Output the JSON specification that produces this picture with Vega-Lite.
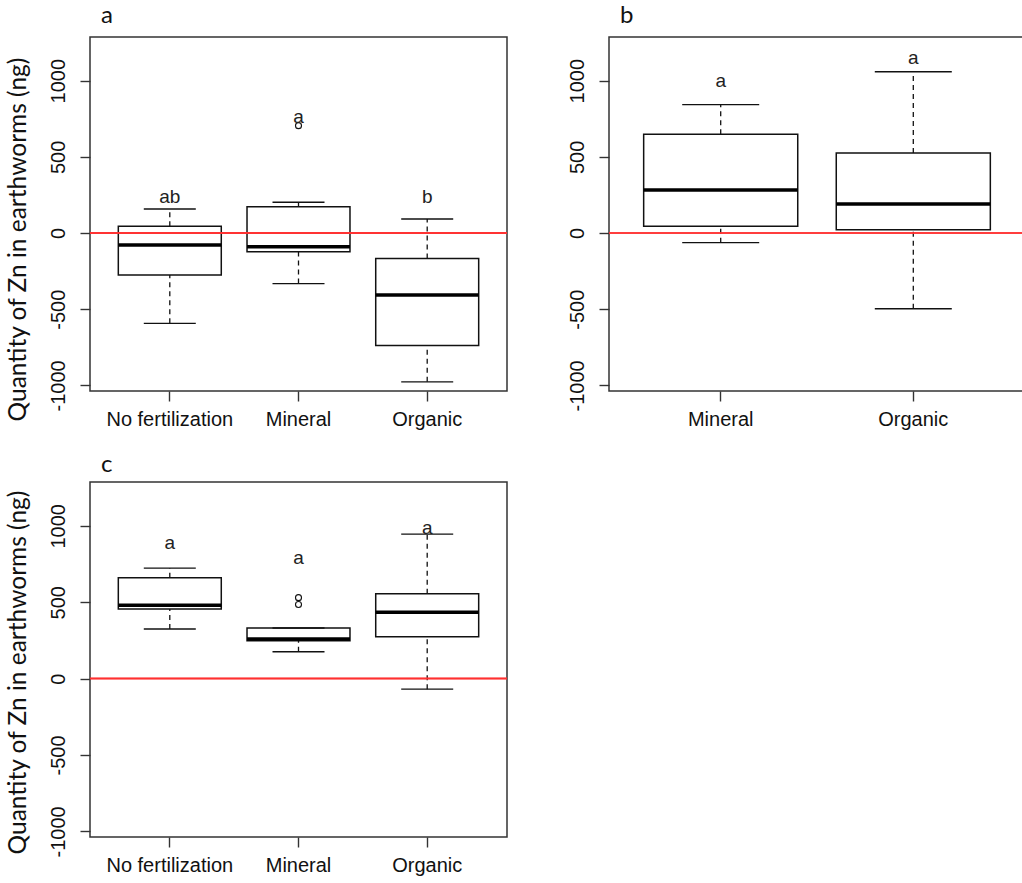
{
  "$schema": "https://vega.github.io/schema/vega-lite/v6.json",
  "padding": {"left": 4, "top": 3, "right": 0, "bottom": 0},
  "background": "white",
  "spacing": 22,
  "datasets": {
    "boxA": [
      {"g": "No fertilization", "lo": -593, "q1": -275, "med": -79, "q3": 44, "hi": 158, "lab": "ab", "ly": 235},
      {"g": "Mineral", "lo": -332, "q1": -123, "med": -90, "q3": 173, "hi": 202, "lab": "a", "ly": 759},
      {"g": "Organic", "lo": -977, "q1": -738, "med": -406, "q3": -167, "hi": 92, "lab": "b", "ly": 235}
    ],
    "outA": [{"g": "Mineral", "v": 705}],
    "boxB": [
      {"g": "Mineral", "lo": -63, "q1": 45, "med": 282, "q3": 648, "hi": 843, "lab": "a", "ly": 995},
      {"g": "Organic", "lo": -497, "q1": 21, "med": 190, "q3": 526, "hi": 1059, "lab": "a", "ly": 1148}
    ],
    "boxC": [
      {"g": "No fertilization", "lo": 325, "q1": 456, "med": 480, "q3": 660, "hi": 723, "lab": "a", "ly": 887},
      {"g": "Mineral", "lo": 176, "q1": 248, "med": 259, "q3": 331, "hi": 331, "lab": "a", "ly": 791},
      {"g": "Organic", "lo": -69, "q1": 274, "med": 434, "q3": 555, "hi": 946, "lab": "a", "ly": 988}
    ],
    "outC": [{"g": "Mineral", "v": 530}, {"g": "Mineral", "v": 485}]
  },
  "vconcat": [
    {
      "hconcat": [
        {
          "width": 417, "height": 354,
          "title": {"text": "a", "anchor": "start", "frame": "group", "dx": 11, "offset": 9, "font": "Lato", "fontSize": 24, "fontWeight": "normal", "color": "#111"},
          "data": {"name": "boxA"},
          "layer": [
            {"mark": {"type": "rule", "color": "#111", "strokeWidth": 1.3, "strokeDash": [5, 4]},
             "encoding": {"x": {"field": "g", "type": "nominal", "sort": ["No fertilization", "Mineral", "Organic"], "scale": {"paddingInner": 0.2, "paddingOuter": 0.22}, "title": null, "axis": {"labelAngle": 0}},
               "y": {"field": "lo", "type": "quantitative", "scale": {"domain": [-1037, 1287], "nice": false, "zero": false}, "title": "Quantity of Zn in earthworms (ng)", "axis": {"titleY": 202}}, "y2": {"field": "q1"}}},
            {"mark": {"type": "rule", "color": "#111", "strokeWidth": 1.3, "strokeDash": [5, 4]},
             "encoding": {"x": {"field": "g", "type": "nominal", "sort": ["No fertilization", "Mineral", "Organic"], "scale": {"paddingInner": 0.2, "paddingOuter": 0.22}, "title": null, "axis": {"labelAngle": 0}},
               "y": {"field": "q3", "type": "quantitative", "scale": {"domain": [-1037, 1287], "nice": false, "zero": false}, "title": "Quantity of Zn in earthworms (ng)"}, "y2": {"field": "hi"}}},
            {"mark": {"type": "bar", "fill": "white", "stroke": "#111", "strokeWidth": 1.5},
             "encoding": {"x": {"field": "g", "type": "nominal", "sort": ["No fertilization", "Mineral", "Organic"], "scale": {"paddingInner": 0.2, "paddingOuter": 0.22}, "title": null, "axis": {"labelAngle": 0}},
               "y": {"field": "q1", "type": "quantitative", "scale": {"domain": [-1037, 1287], "nice": false, "zero": false}, "title": "Quantity of Zn in earthworms (ng)"}, "y2": {"field": "q3"}}},
            {"mark": {"type": "tick", "color": "#000", "size": 103, "thickness": 3.5, "opacity": 1},
             "encoding": {"x": {"field": "g", "type": "nominal", "sort": ["No fertilization", "Mineral", "Organic"], "scale": {"paddingInner": 0.2, "paddingOuter": 0.22}, "title": null, "axis": {"labelAngle": 0}},
               "y": {"field": "med", "type": "quantitative", "scale": {"domain": [-1037, 1287], "nice": false, "zero": false}, "title": "Quantity of Zn in earthworms (ng)"}}},
            {"mark": {"type": "tick", "color": "#111", "size": 52, "thickness": 1.4, "opacity": 1},
             "encoding": {"x": {"field": "g", "type": "nominal", "sort": ["No fertilization", "Mineral", "Organic"], "scale": {"paddingInner": 0.2, "paddingOuter": 0.22}, "title": null, "axis": {"labelAngle": 0}},
               "y": {"field": "lo", "type": "quantitative", "scale": {"domain": [-1037, 1287], "nice": false, "zero": false}, "title": "Quantity of Zn in earthworms (ng)"}}},
            {"mark": {"type": "tick", "color": "#111", "size": 52, "thickness": 1.4, "opacity": 1},
             "encoding": {"x": {"field": "g", "type": "nominal", "sort": ["No fertilization", "Mineral", "Organic"], "scale": {"paddingInner": 0.2, "paddingOuter": 0.22}, "title": null, "axis": {"labelAngle": 0}},
               "y": {"field": "hi", "type": "quantitative", "scale": {"domain": [-1037, 1287], "nice": false, "zero": false}, "title": "Quantity of Zn in earthworms (ng)"}}},
            {"data": {"name": "outA"},
             "mark": {"type": "point", "shape": "circle", "size": 36, "stroke": "#111", "strokeWidth": 1.1, "filled": false, "opacity": 1},
             "encoding": {"x": {"field": "g", "type": "nominal", "sort": ["No fertilization", "Mineral", "Organic"], "scale": {"paddingInner": 0.2, "paddingOuter": 0.22}, "title": null, "axis": {"labelAngle": 0}},
               "y": {"field": "v", "type": "quantitative", "scale": {"domain": [-1037, 1287], "nice": false, "zero": false}, "title": "Quantity of Zn in earthworms (ng)"}}},
            {"mark": {"type": "text", "font": "Liberation Sans", "fontSize": 19, "color": "#222", "baseline": "middle", "align": "center"},
             "encoding": {"x": {"field": "g", "type": "nominal", "sort": ["No fertilization", "Mineral", "Organic"], "scale": {"paddingInner": 0.2, "paddingOuter": 0.22}, "title": null, "axis": {"labelAngle": 0}},
               "y": {"field": "ly", "type": "quantitative", "scale": {"domain": [-1037, 1287], "nice": false, "zero": false}, "title": "Quantity of Zn in earthworms (ng)"}, "text": {"field": "lab"}}},
            {"mark": {"type": "rule", "color": "#ff3030", "strokeWidth": 1.5},
             "encoding": {"y": {"datum": 0, "type": "quantitative", "scale": {"domain": [-1037, 1287], "nice": false, "zero": false}, "title": "Quantity of Zn in earthworms (ng)"}}}
          ]
        },
        {
          "width": 416, "height": 354,
          "title": {"text": "b", "anchor": "start", "frame": "group", "dx": 11, "offset": 9, "font": "Lato", "fontSize": 24, "fontWeight": "normal", "color": "#111"},
          "data": {"name": "boxB"},
          "layer": [
            {"mark": {"type": "rule", "color": "#111", "strokeWidth": 1.3, "strokeDash": [5, 4]},
             "encoding": {"x": {"field": "g", "type": "nominal", "sort": ["Mineral", "Organic"], "scale": {"paddingInner": 0.2, "paddingOuter": 0.18}, "title": null, "axis": {"labelAngle": 0}},
               "y": {"field": "lo", "type": "quantitative", "scale": {"domain": [-1037, 1287], "nice": false, "zero": false}, "title": null}, "y2": {"field": "q1"}}},
            {"mark": {"type": "rule", "color": "#111", "strokeWidth": 1.3, "strokeDash": [5, 4]},
             "encoding": {"x": {"field": "g", "type": "nominal", "sort": ["Mineral", "Organic"], "scale": {"paddingInner": 0.2, "paddingOuter": 0.18}, "title": null, "axis": {"labelAngle": 0}},
               "y": {"field": "q3", "type": "quantitative", "scale": {"domain": [-1037, 1287], "nice": false, "zero": false}, "title": null}, "y2": {"field": "hi"}}},
            {"mark": {"type": "bar", "fill": "white", "stroke": "#111", "strokeWidth": 1.5},
             "encoding": {"x": {"field": "g", "type": "nominal", "sort": ["Mineral", "Organic"], "scale": {"paddingInner": 0.2, "paddingOuter": 0.18}, "title": null, "axis": {"labelAngle": 0}},
               "y": {"field": "q1", "type": "quantitative", "scale": {"domain": [-1037, 1287], "nice": false, "zero": false}, "title": null}, "y2": {"field": "q3"}}},
            {"mark": {"type": "tick", "color": "#000", "size": 154, "thickness": 3.5, "opacity": 1},
             "encoding": {"x": {"field": "g", "type": "nominal", "sort": ["Mineral", "Organic"], "scale": {"paddingInner": 0.2, "paddingOuter": 0.18}, "title": null, "axis": {"labelAngle": 0}},
               "y": {"field": "med", "type": "quantitative", "scale": {"domain": [-1037, 1287], "nice": false, "zero": false}, "title": null}}},
            {"mark": {"type": "tick", "color": "#111", "size": 77, "thickness": 1.4, "opacity": 1},
             "encoding": {"x": {"field": "g", "type": "nominal", "sort": ["Mineral", "Organic"], "scale": {"paddingInner": 0.2, "paddingOuter": 0.18}, "title": null, "axis": {"labelAngle": 0}},
               "y": {"field": "lo", "type": "quantitative", "scale": {"domain": [-1037, 1287], "nice": false, "zero": false}, "title": null}}},
            {"mark": {"type": "tick", "color": "#111", "size": 77, "thickness": 1.4, "opacity": 1},
             "encoding": {"x": {"field": "g", "type": "nominal", "sort": ["Mineral", "Organic"], "scale": {"paddingInner": 0.2, "paddingOuter": 0.18}, "title": null, "axis": {"labelAngle": 0}},
               "y": {"field": "hi", "type": "quantitative", "scale": {"domain": [-1037, 1287], "nice": false, "zero": false}, "title": null}}},
            {"mark": {"type": "text", "font": "Liberation Sans", "fontSize": 19, "color": "#222", "baseline": "middle", "align": "center"},
             "encoding": {"x": {"field": "g", "type": "nominal", "sort": ["Mineral", "Organic"], "scale": {"paddingInner": 0.2, "paddingOuter": 0.18}, "title": null, "axis": {"labelAngle": 0}},
               "y": {"field": "ly", "type": "quantitative", "scale": {"domain": [-1037, 1287], "nice": false, "zero": false}, "title": null}, "text": {"field": "lab"}}},
            {"mark": {"type": "rule", "color": "#ff3030", "strokeWidth": 1.5},
             "encoding": {"y": {"datum": 0, "type": "quantitative", "scale": {"domain": [-1037, 1287], "nice": false, "zero": false}, "title": null}}}
          ]
        }
      ],
      "spacing": 57
    },
    {
      "width": 417, "height": 355,
      "title": {"text": "c", "anchor": "start", "frame": "group", "dx": 11, "offset": 5, "font": "Lato", "fontSize": 24, "fontWeight": "normal", "color": "#111"},
      "data": {"name": "boxC"},
      "layer": [
        {"mark": {"type": "rule", "color": "#111", "strokeWidth": 1.3, "strokeDash": [5, 4]},
         "encoding": {"x": {"field": "g", "type": "nominal", "sort": ["No fertilization", "Mineral", "Organic"], "scale": {"paddingInner": 0.2, "paddingOuter": 0.22}, "title": null, "axis": {"labelAngle": 0}},
           "y": {"field": "lo", "type": "quantitative", "scale": {"domain": [-1037, 1287], "nice": false, "zero": false}, "title": "Quantity of Zn in earthworms (ng)", "axis": {"titleY": 190}}, "y2": {"field": "q1"}}},
        {"mark": {"type": "rule", "color": "#111", "strokeWidth": 1.3, "strokeDash": [5, 4]},
         "encoding": {"x": {"field": "g", "type": "nominal", "sort": ["No fertilization", "Mineral", "Organic"], "scale": {"paddingInner": 0.2, "paddingOuter": 0.22}, "title": null, "axis": {"labelAngle": 0}},
           "y": {"field": "q3", "type": "quantitative", "scale": {"domain": [-1037, 1287], "nice": false, "zero": false}, "title": "Quantity of Zn in earthworms (ng)"}, "y2": {"field": "hi"}}},
        {"mark": {"type": "bar", "fill": "white", "stroke": "#111", "strokeWidth": 1.5},
         "encoding": {"x": {"field": "g", "type": "nominal", "sort": ["No fertilization", "Mineral", "Organic"], "scale": {"paddingInner": 0.2, "paddingOuter": 0.22}, "title": null, "axis": {"labelAngle": 0}},
           "y": {"field": "q1", "type": "quantitative", "scale": {"domain": [-1037, 1287], "nice": false, "zero": false}, "title": "Quantity of Zn in earthworms (ng)"}, "y2": {"field": "q3"}}},
        {"mark": {"type": "tick", "color": "#000", "size": 103, "thickness": 3.5, "opacity": 1},
         "encoding": {"x": {"field": "g", "type": "nominal", "sort": ["No fertilization", "Mineral", "Organic"], "scale": {"paddingInner": 0.2, "paddingOuter": 0.22}, "title": null, "axis": {"labelAngle": 0}},
           "y": {"field": "med", "type": "quantitative", "scale": {"domain": [-1037, 1287], "nice": false, "zero": false}, "title": "Quantity of Zn in earthworms (ng)"}}},
        {"mark": {"type": "tick", "color": "#111", "size": 52, "thickness": 1.4, "opacity": 1},
         "encoding": {"x": {"field": "g", "type": "nominal", "sort": ["No fertilization", "Mineral", "Organic"], "scale": {"paddingInner": 0.2, "paddingOuter": 0.22}, "title": null, "axis": {"labelAngle": 0}},
           "y": {"field": "lo", "type": "quantitative", "scale": {"domain": [-1037, 1287], "nice": false, "zero": false}, "title": "Quantity of Zn in earthworms (ng)"}}},
        {"mark": {"type": "tick", "color": "#111", "size": 52, "thickness": 1.4, "opacity": 1},
         "encoding": {"x": {"field": "g", "type": "nominal", "sort": ["No fertilization", "Mineral", "Organic"], "scale": {"paddingInner": 0.2, "paddingOuter": 0.22}, "title": null, "axis": {"labelAngle": 0}},
           "y": {"field": "hi", "type": "quantitative", "scale": {"domain": [-1037, 1287], "nice": false, "zero": false}, "title": "Quantity of Zn in earthworms (ng)"}}},
        {"data": {"name": "outC"},
         "mark": {"type": "point", "shape": "circle", "size": 36, "stroke": "#111", "strokeWidth": 1.1, "filled": false, "opacity": 1},
         "encoding": {"x": {"field": "g", "type": "nominal", "sort": ["No fertilization", "Mineral", "Organic"], "scale": {"paddingInner": 0.2, "paddingOuter": 0.22}, "title": null, "axis": {"labelAngle": 0}},
           "y": {"field": "v", "type": "quantitative", "scale": {"domain": [-1037, 1287], "nice": false, "zero": false}, "title": "Quantity of Zn in earthworms (ng)"}}},
        {"mark": {"type": "text", "font": "Liberation Sans", "fontSize": 19, "color": "#222", "baseline": "middle", "align": "center"},
         "encoding": {"x": {"field": "g", "type": "nominal", "sort": ["No fertilization", "Mineral", "Organic"], "scale": {"paddingInner": 0.2, "paddingOuter": 0.22}, "title": null, "axis": {"labelAngle": 0}},
           "y": {"field": "ly", "type": "quantitative", "scale": {"domain": [-1037, 1287], "nice": false, "zero": false}, "title": "Quantity of Zn in earthworms (ng)"}, "text": {"field": "lab"}}},
        {"mark": {"type": "rule", "color": "#ff3030", "strokeWidth": 1.5},
         "encoding": {"y": {"datum": 0, "type": "quantitative", "scale": {"domain": [-1037, 1287], "nice": false, "zero": false}, "title": "Quantity of Zn in earthworms (ng)"}}}
      ]
    }
  ],
  "config": {
    "view": {"stroke": "#333", "strokeWidth": 1.5},
    "axis": {"grid": false, "domain": false, "tickColor": "#333", "tickWidth": 1.4, "tickSize": 10, "labelFont": "Liberation Sans", "labelFontSize": 20, "labelColor": "#111"},
    "axisX": {"labelPadding": 8, "labelAngle": 0},
    "axisY": {"tickCount": 5, "labelExpr": "'' + datum.value", "labelAngle": -90, "labelAlign": "center", "labelBaseline": "bottom", "labelPadding": 12, "labelOverlap": false, "titleFont": "Lato", "titleFontSize": 24.5, "titleFontWeight": "normal", "titleColor": "#111", "titlePadding": 18}
  }
}
